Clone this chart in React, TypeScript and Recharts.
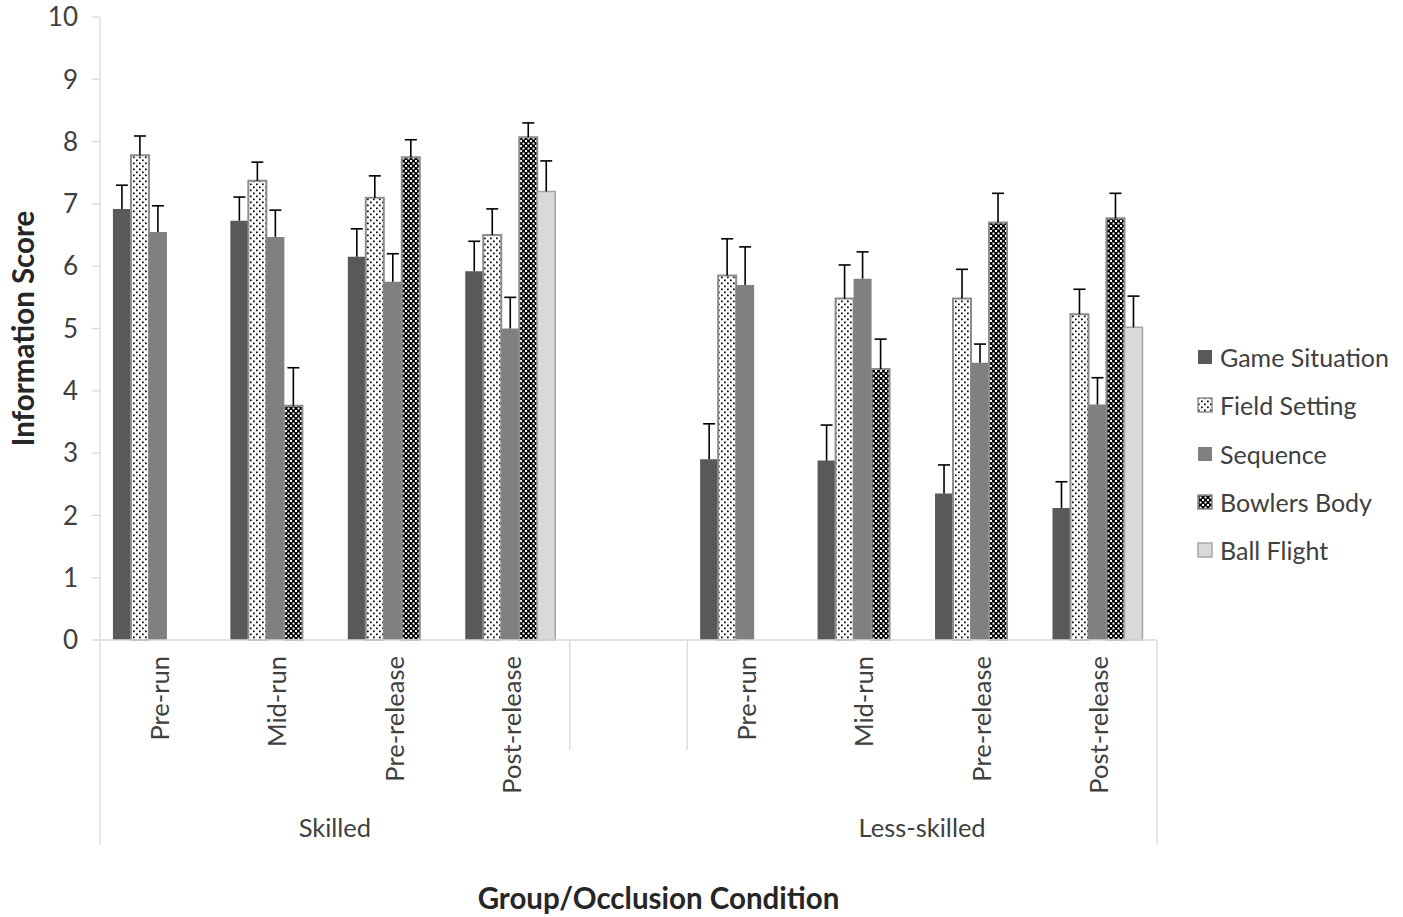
import React from 'react';
import { BarChart, Bar, XAxis, YAxis, ErrorBar } from 'recharts';

// categories along the x axis (blank slot separates the two groups)
const conditions = ['Pre-run', 'Mid-run', 'Pre-release', 'Post-release', '', 'Pre-run', 'Mid-run', 'Pre-release', 'Post-release'];
const groups = ['Skilled', 'Less-skilled'];
const yTicks = [0, 1, 2, 3, 4, 5, 6, 7, 8, 9, 10];

// mean information scores
const gameSituation = [6.92, 6.73, 6.15, 5.92, null, 2.9, 2.88, 2.35, 2.12];
const fieldSetting = [7.78, 7.37, 7.1, 6.5, null, 5.85, 5.48, 5.48, 5.23];
const sequence = [6.55, 6.47, 5.75, 5.0, null, 5.7, 5.8, 4.45, 3.78];
const bowlersBody = [null, 3.76, 7.75, 8.07, null, null, 4.35, 6.7, 6.77];
const ballFlight = [null, null, null, 7.2, null, null, null, null, 5.02];

// upper error (SE)
const gameErr = [0.38, 0.38, 0.45, 0.48, null, 0.57, 0.57, 0.46, 0.42];
const fieldErr = [0.31, 0.3, 0.35, 0.42, null, 0.59, 0.54, 0.47, 0.4];
const sequenceErr = [0.42, 0.43, 0.45, 0.5, null, 0.61, 0.43, 0.3, 0.43];
const bowlersErr = [null, 0.61, 0.28, 0.23, null, null, 0.48, 0.47, 0.4];
const ballErr = [null, null, null, 0.49, null, null, null, null, 0.5];

const FONT = 'Lato, "Open Sans", sans-serif';
const TEXT = '#404040';
const AXIS = '#d9d9d9';

const SERIES = [
  { key: 'game', name: 'Game Situation', values: gameSituation, errors: gameErr, fill: '#595959', stroke: '#595959', sw: 0 },
  { key: 'field', name: 'Field Setting', values: fieldSetting, errors: fieldErr, fill: 'url(#dots)', stroke: '#8c8c8c', sw: 2 },
  { key: 'seq', name: 'Sequence', values: sequence, errors: sequenceErr, fill: '#808080', stroke: '#808080', sw: 0 },
  { key: 'body', name: 'Bowlers Body', values: bowlersBody, errors: bowlersErr, fill: 'url(#checks)', stroke: '#8c8c8c', sw: 2 },
  { key: 'ball', name: 'Ball Flight', values: ballFlight, errors: ballErr, fill: '#d9d9d9', stroke: '#a6a6a6', sw: 1.5 },
];

const data = conditions.map((c, i) => {
  const row: Record<string, unknown> = { slot: `s${i}`, label: c };
  SERIES.forEach((s) => {
    row[s.key] = s.values[i];
    row[s.key + 'Err'] = s.errors[i] == null ? null : [0, s.errors[i]];
  });
  return row;
});

function CategoryTick(props: any) {
  const { x, y, payload, index } = props;
  const half = payload && payload.offset ? payload.offset : 58.7;
  const label = conditions[index];
  const lines: React.ReactNode[] = [];
  if (index === 0) lines.push(<line key="l" x1={x - half} x2={x - half} y1={y} y2={y + 205} stroke={AXIS} strokeWidth={1.3} />);
  if (index === 4 || index === 5) lines.push(<line key="m" x1={x - half} x2={x - half} y1={y} y2={y + 110} stroke={AXIS} strokeWidth={1.3} />);
  if (index === 8) lines.push(<line key="r" x1={x + half} x2={x + half} y1={y} y2={y + 205} stroke={AXIS} strokeWidth={1.3} />);
  return (
    <g>
      {lines}
      {label && (
        <text
          x={x}
          y={y + 16}
          transform={`rotate(-90, ${x}, ${y + 16})`}
          textAnchor="end"
          dominantBaseline="central"
          fontSize={25.5}
          fill={TEXT}
          fontFamily={FONT}
        >
          {label}
        </text>
      )}
      {index === 1 && (
        <text x={x + half} y={y + 187} textAnchor="middle" dominantBaseline="central" fontSize={25.5} fill={TEXT} fontFamily={FONT}>
          {groups[0]}
        </text>
      )}
      {index === 6 && (
        <text x={x + half} y={y + 187} textAnchor="middle" dominantBaseline="central" fontSize={25.5} fill={TEXT} fontFamily={FONT}>
          {groups[1]}
        </text>
      )}
    </g>
  );
}

export default function App() {
  return (
    <div style={{ position: 'absolute', left: 0, top: 0, width: 1403, height: 917, background: '#fff', fontFamily: FONT }}>
      <style>{`.recharts-errorBar line:nth-of-type(3){display:none}`}</style>
      <BarChart
        width={1403}
        height={917}
        data={data}
        margin={{ top: 17, right: 246, bottom: 0, left: 0 }}
        barCategoryGap="11%"
        barGap={0}
      >
        <defs>
          <pattern id="dots" width="6" height="6" patternUnits="userSpaceOnUse">
            <rect width="6" height="6" fill="#fff" />
            <rect x="1" y="0.5" width="1.7" height="1.7" fill="#000" />
            <rect x="4" y="3.5" width="1.7" height="1.7" fill="#000" />
          </pattern>
          <pattern id="checks" width="5" height="5" patternUnits="userSpaceOnUse">
            <rect width="5" height="5" fill="#000" />
            <rect x="0" y="0" width="2" height="2" fill="#fff" />
            <rect x="2.5" y="2.5" width="2" height="2" fill="#fff" />
          </pattern>
        </defs>
        <XAxis
          dataKey="slot"
          height={277}
          interval={0}
          tickLine={false}
          tickSize={0}
          tickMargin={0}
          axisLine={{ stroke: AXIS, strokeWidth: 1.3 }}
          tick={<CategoryTick />}
          label={({ viewBox }: any) => (
            <text
              x={viewBox.x + viewBox.width / 2 + 30}
              y={viewBox.y + 257}
              textAnchor="middle"
              dominantBaseline="central"
              fontSize={29.5}
              fontWeight="bold"
              fill="#262626"
              fontFamily={FONT}
            >
              Group/Occlusion Condition
            </text>
          )}
        />
        <YAxis
          width={100}
          domain={[0, 10]}
          ticks={yTicks}
          interval={0}
          tickSize={8}
          tickMargin={14}
          tickLine={{ stroke: AXIS, strokeWidth: 1.3 }}
          axisLine={{ stroke: AXIS, strokeWidth: 1.3 }}
          tick={{ fontSize: 26, fill: TEXT, fontFamily: FONT }}
          label={({ viewBox }: any) => (
            <text
              x={22}
              y={viewBox.y + viewBox.height / 2}
              transform={`rotate(-90, 22, ${viewBox.y + viewBox.height / 2})`}
              textAnchor="middle"
              dominantBaseline="central"
              fontSize={29.5}
              fontWeight="bold"
              fill="#262626"
              fontFamily={FONT}
            >
              Information Score
            </text>
          )}
        />
        {SERIES.map((s) => (
          <Bar
            key={s.key}
            dataKey={s.key}
            name={s.name}
            fill={s.fill}
            stroke={s.stroke}
            strokeWidth={s.sw}
            isAnimationActive={false}
          >
            <ErrorBar dataKey={s.key + 'Err'} width={6} stroke="#000" strokeWidth={1.6} direction="y" isAnimationActive={false} />
          </Bar>
        ))}
      </BarChart>
      <div style={{ position: 'absolute', left: 1197, top: 333 }}>
        {SERIES.map((s) => (
          <div key={s.key} style={{ display: 'flex', alignItems: 'center', height: 48.3 }}>
            <svg width={16} height={16} style={{ marginRight: 7 }}>
              <rect x={1} y={1} width={14} height={14} fill={s.fill} stroke={s.sw ? s.stroke : s.fill} strokeWidth={s.sw ? 1.5 : 0} />
            </svg>
            <span style={{ fontSize: 25, color: TEXT, fontFamily: FONT, whiteSpace: 'nowrap' }}>{s.name}</span>
          </div>
        ))}
      </div>
    </div>
  );
}
